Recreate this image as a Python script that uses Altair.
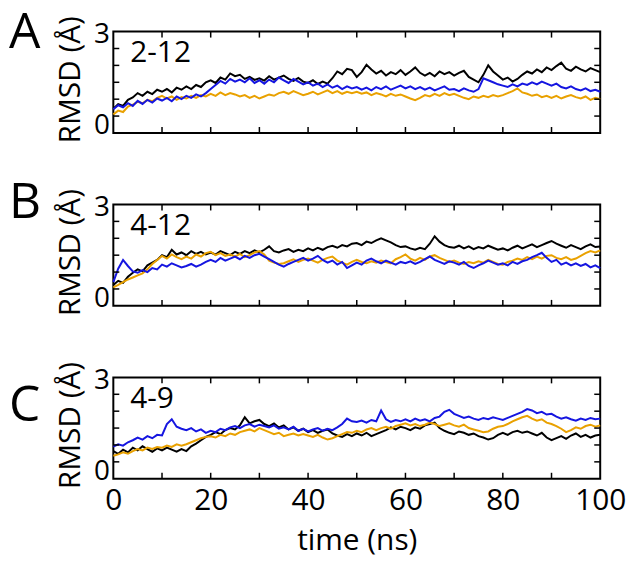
import altair as alt
import pandas as pd

TIME = list(range(0, 101))

A_BLACK = [0.72, 0.85, 0.80, 0.98, 1.05, 1.18, 1.10, 1.22, 1.15, 1.28,
           1.22, 1.30, 1.20, 1.34, 1.28, 1.38, 1.30, 1.42, 1.36, 1.50,
           1.56, 1.48, 1.64, 1.58, 1.76, 1.68, 1.72, 1.60, 1.66, 1.57,
           1.62, 1.55, 1.68, 1.58, 1.64, 1.70, 1.60, 1.54, 1.63, 1.52,
           1.48, 1.56, 1.45, 1.52, 1.46, 1.62, 1.82, 1.74, 1.90, 1.86,
           1.66, 1.80, 2.02, 1.88, 1.76, 1.84, 1.70, 1.80, 1.74, 1.86,
           1.72, 1.82, 1.94, 1.78, 1.70, 1.78, 1.68, 1.82, 1.74, 1.80,
           1.70, 1.78, 1.84, 1.66, 1.58, 1.50, 1.72, 2.00, 1.82, 1.70,
           1.58, 1.64, 1.52, 1.60, 1.72, 1.82, 1.76, 1.88, 1.80, 1.94,
           1.86, 1.98, 2.08, 1.90, 1.84, 1.96, 1.88, 1.82, 1.92, 1.86,
           1.80]
A_ORANGE = [0.55, 0.66, 0.62, 0.78, 0.84, 0.92, 0.88, 0.98, 0.94, 1.04,
            1.10, 1.02, 1.08, 0.98, 1.06, 1.02, 1.10, 1.04, 1.12, 1.08,
            1.16, 1.10, 1.20, 1.12, 1.18, 1.14, 1.08, 1.12, 1.04, 1.10,
            1.02, 1.08, 1.14, 1.10, 1.18, 1.22, 1.16, 1.24, 1.18, 1.12,
            1.16, 1.22, 1.14, 1.20, 1.26, 1.18, 1.24, 1.16, 1.22, 1.18,
            1.22, 1.16, 1.20, 1.12, 1.18, 1.14, 1.08, 1.16, 1.10, 1.14,
            1.08, 1.02, 0.97, 1.04, 1.12, 1.08, 1.16, 1.10, 1.18, 1.12,
            1.16, 1.10, 1.04, 1.00, 1.08, 1.04, 1.10, 1.06, 1.12, 1.08,
            1.12, 1.18, 1.24, 1.32, 1.20, 1.16, 1.10, 1.14, 1.06, 1.10,
            1.04, 1.10, 1.02, 1.08, 1.12, 1.06, 1.02, 1.08, 0.98, 1.04,
            1.00]
A_BLUE = [0.70, 0.82, 0.76, 0.88, 0.80, 0.95, 0.86, 0.98, 0.90, 1.02,
          0.96, 1.04, 0.94, 1.08, 1.00, 1.10, 1.04, 1.14, 1.08, 1.18,
          1.30, 1.42, 1.54, 1.46, 1.60, 1.52, 1.58, 1.50, 1.62, 1.48,
          1.56, 1.46, 1.58, 1.50, 1.64, 1.56, 1.48, 1.60, 1.52, 1.44,
          1.50, 1.40, 1.46, 1.36, 1.44, 1.34, 1.40, 1.30, 1.38, 1.32,
          1.36, 1.28, 1.34, 1.26, 1.36, 1.30, 1.38, 1.28, 1.34, 1.40,
          1.32, 1.38, 1.30, 1.36, 1.28, 1.34, 1.26, 1.32, 1.38, 1.28,
          1.30, 1.24, 1.32, 1.26, 1.22, 1.30, 1.62, 1.56, 1.50, 1.44,
          1.40, 1.36, 1.44, 1.38, 1.46, 1.42, 1.50, 1.44, 1.52, 1.46,
          1.40, 1.46, 1.36, 1.32, 1.38, 1.30, 1.26, 1.32, 1.24, 1.28,
          1.22]

B_BLACK = [0.62, 0.74, 0.68, 0.86, 0.98, 1.08, 1.02, 1.20, 1.28, 1.36,
           1.50, 1.44, 1.66, 1.52, 1.58, 1.50, 1.62, 1.54, 1.60, 1.52,
           1.58, 1.52, 1.62, 1.56, 1.50, 1.60, 1.54, 1.62, 1.56, 1.64,
           1.58, 1.66, 1.76, 1.62, 1.58, 1.64, 1.68, 1.60, 1.66, 1.62,
           1.70, 1.64, 1.72, 1.66, 1.74, 1.78, 1.72, 1.80, 1.76, 1.84,
           1.86, 1.80, 1.90, 1.86, 1.94, 2.00, 1.94, 1.88, 1.80, 1.74,
           1.76, 1.70, 1.66, 1.72, 1.68, 1.84, 2.06, 1.90, 1.80, 1.74,
           1.72, 1.78, 1.70, 1.76, 1.68, 1.74, 1.70, 1.78, 1.72, 1.66,
           1.70, 1.64, 1.72, 1.78, 1.70, 1.76, 1.82, 1.74, 1.80, 1.86,
           1.92, 1.84, 1.78, 1.72, 1.80, 1.74, 1.68, 1.76, 1.82, 1.74,
           1.76]
B_ORANGE = [0.55, 0.62, 0.70, 0.78, 0.84, 0.90, 0.96, 1.08, 1.24, 1.36,
            1.48, 1.40, 1.52, 1.44, 1.38, 1.46, 1.40, 1.52, 1.46, 1.56,
            1.60, 1.50, 1.56, 1.48, 1.52, 1.46, 1.54, 1.44, 1.50, 1.58,
            1.62, 1.52, 1.34, 1.28, 1.24, 1.26, 1.32, 1.38, 1.30, 1.36,
            1.40, 1.34, 1.28, 1.36, 1.42, 1.46, 1.34, 1.28, 1.22, 1.30,
            1.36, 1.30, 1.26, 1.32, 1.28, 1.34, 1.30, 1.26, 1.38, 1.44,
            1.52, 1.40, 1.34, 1.42, 1.36, 1.46, 1.50, 1.42, 1.36, 1.30,
            1.34, 1.28, 1.24, 1.30, 1.26, 1.32, 1.28, 1.36, 1.30, 1.24,
            1.22, 1.30, 1.34, 1.40, 1.36, 1.44, 1.38, 1.46, 1.40, 1.48,
            1.50, 1.42, 1.38, 1.44, 1.36, 1.40, 1.48, 1.56, 1.62, 1.58,
            1.64]
B_BLUE = [0.70, 1.10, 1.36, 1.18, 1.02, 0.98, 1.06, 1.00, 1.12, 1.08,
          1.22, 1.16, 1.26, 1.20, 1.14, 1.18, 1.24, 1.16, 1.22, 1.30,
          1.36, 1.30, 1.42, 1.34, 1.40, 1.46, 1.38, 1.48, 1.42, 1.50,
          1.54, 1.46, 1.38, 1.30, 1.22, 1.16, 1.24, 1.30, 1.36, 1.42,
          1.34, 1.40, 1.48, 1.36, 1.28, 1.34, 1.22, 1.30, 1.12, 1.20,
          1.28, 1.22, 1.34, 1.40, 1.32, 1.26, 1.34, 1.28, 1.22, 1.30,
          1.26, 1.32, 1.24, 1.30, 1.38, 1.46, 1.36, 1.30, 1.24, 1.32,
          1.28, 1.22, 1.30, 1.18, 1.12, 1.20, 1.26, 1.34, 1.28, 1.22,
          1.26, 1.20, 1.30, 1.24, 1.32, 1.36, 1.44, 1.50, 1.57, 1.42,
          1.30, 1.36, 1.22, 1.28, 1.20, 1.26, 1.18, 1.24, 1.14, 1.20,
          1.12]

C_BLACK = [0.82, 0.74, 0.86, 0.78, 0.92, 0.84, 0.96, 0.88, 0.80, 0.90,
           0.84, 0.92, 0.86, 0.80, 0.88, 0.82, 0.96, 1.04, 1.14, 1.24,
           1.30, 1.38, 1.32, 1.44, 1.50, 1.46, 1.58, 1.82, 1.64, 1.70,
           1.74, 1.62, 1.56, 1.64, 1.52, 1.58, 1.46, 1.52, 1.42, 1.48,
           1.38, 1.44, 1.36, 1.42, 1.46, 1.34, 1.28, 1.24, 1.32, 1.26,
           1.34, 1.28, 1.36, 1.26, 1.32, 1.38, 1.44, 1.52, 1.46, 1.54,
           1.50, 1.44, 1.52, 1.48, 1.58, 1.62, 1.66, 1.50, 1.42, 1.36,
           1.32, 1.40, 1.36, 1.30, 1.34, 1.26, 1.22, 1.16, 1.20, 1.30,
           1.36, 1.30, 1.38, 1.42, 1.36, 1.40, 1.34, 1.28, 1.36, 1.22,
           1.14, 1.20, 1.26, 1.18, 1.28, 1.34, 1.24, 1.30, 1.22, 1.28,
           1.30]
C_ORANGE = [0.68, 0.72, 0.78, 0.74, 0.82, 0.88, 0.84, 0.92, 0.88, 0.94,
            0.92, 0.98, 0.94, 1.02, 0.98, 1.02, 1.08, 1.14, 1.20, 1.24,
            1.26, 1.22, 1.30, 1.26, 1.34, 1.30, 1.38, 1.42, 1.46, 1.40,
            1.50, 1.44, 1.38, 1.32, 1.36, 1.26, 1.30, 1.34, 1.28, 1.32,
            1.28, 1.24, 1.30, 1.22, 1.16, 1.20, 1.26, 1.32, 1.38, 1.36,
            1.42, 1.38, 1.46, 1.50, 1.44, 1.50, 1.54, 1.48, 1.56, 1.60,
            1.64, 1.58, 1.62, 1.56, 1.60, 1.66, 1.62, 1.56, 1.60, 1.64,
            1.58, 1.54, 1.60, 1.50, 1.46, 1.42, 1.38, 1.40, 1.48, 1.54,
            1.56, 1.62, 1.70, 1.76, 1.82, 1.86, 1.78, 1.72, 1.76, 1.66,
            1.62, 1.56, 1.48, 1.38, 1.44, 1.52, 1.48, 1.56, 1.60, 1.54,
            1.58]
C_BLUE = [0.95, 1.02, 0.98, 1.08, 1.14, 1.22, 1.16, 1.26, 1.20, 1.30,
          1.28, 1.62, 1.76, 1.54, 1.48, 1.44, 1.50, 1.40, 1.46, 1.36,
          1.42, 1.38, 1.48, 1.44, 1.52, 1.56, 1.50, 1.58, 1.62, 1.54,
          1.60, 1.56, 1.52, 1.58, 1.48, 1.52, 1.46, 1.54, 1.42, 1.48,
          1.40, 1.46, 1.50, 1.42, 1.48, 1.44, 1.52, 1.62, 1.78, 1.70,
          1.68, 1.72, 1.66, 1.74, 1.70, 2.02, 1.76, 1.68, 1.74, 1.70,
          1.76, 1.70, 1.78, 1.72, 1.76, 1.70, 1.80, 1.84, 1.98, 2.04,
          1.92, 1.86, 1.80, 1.84, 1.78, 1.74, 1.80, 1.76, 1.82, 1.78,
          1.74, 1.80, 1.86, 1.92, 1.98, 2.06, 2.02, 1.94, 1.98, 1.90,
          1.92, 1.84, 1.78, 1.82, 1.76, 1.72, 1.78, 1.74, 1.80, 1.76,
          1.78]

PANEL_LETTERS = ["A", "B", "C"]
PANEL_NAMES = ["2-12", "4-12", "4-9"]
SERIES_NAMES = ["black", "orange", "blue"]
SERIES_COLORS = ["#000000", "#E9A100", "#1515E0"]
PANEL_DATA = [
    [A_BLACK, A_ORANGE, A_BLUE],
    [B_BLACK, B_ORANGE, B_BLUE],
    [C_BLACK, C_ORANGE, C_BLUE],
]
Y_TICKS = [0.5, 1.0, 1.5, 2.0, 2.5]
X_TICKS = [10, 20, 30, 40, 50, 60, 70, 80, 90]
X_LABELS = [0, 20, 40, 60, 80, 100]
Y_LABELS = [0, 3]

FONT = "Open Sans"
W, H = 490, 102
TL = 6  # inner tick length
LETTER_Y = [16, 14, 44]

xscale = alt.Scale(domain=[0, 100], nice=False, zero=False)
yscale = alt.Scale(domain=[0, 3], nice=False)

ytick_df = pd.DataFrame({"v": Y_TICKS})
xtick_df = pd.DataFrame({"v": X_TICKS})


def make_panel(i):
    last = i == 2
    if last:
        xaxis = alt.Axis(values=X_LABELS, title="time (ns)", ticks=False, tickSize=0,
                         domain=False, grid=False, labelFontSize=30, labelPadding=7,
                         labelFlush=False, labelOverlap=False, format="d",
                         titleFontSize=30, titleFontWeight="normal", titlePadding=10,
                         labelFont=FONT, titleFont=FONT, labelColor="black", titleColor="black")
    else:
        xaxis = None
    yaxis = alt.Axis(values=Y_LABELS, title="RMSD (Å)", ticks=False, tickSize=0,
                     domain=False, grid=False, labelFontSize=28, labelPadding=4,
                     labelFlush=False, labelOverlap=False, format="d",
                     labelOffset={"condition": {"test": "datum.value == 0", "value": -7}, "value": 3},
                     titleFontSize=30, titleFontWeight="normal", titleAngle=270,
                     titleBaseline="middle", titleX=-43, titleY=48,
                     labelFont=FONT, titleFont=FONT, labelColor="black", titleColor="black")
    layers = []
    for k, name in enumerate(SERIES_NAMES):
        df = pd.DataFrame({"time": TIME, "rmsd": PANEL_DATA[i][k]})
        layers.append(
            alt.Chart(df).mark_line(color=SERIES_COLORS[k], strokeWidth=2).encode(
                x=alt.X("time:Q", scale=xscale, axis=xaxis),
                y=alt.Y("rmsd:Q", scale=yscale, axis=yaxis),
            )
        )
    tick_style = dict(color="black", strokeWidth=1.5)
    layers.append(alt.Chart(ytick_df).mark_rule(**tick_style).encode(
        y=alt.Y("v:Q", scale=yscale, axis=yaxis), x=alt.value(0), x2=alt.value(TL)))
    layers.append(alt.Chart(ytick_df).mark_rule(**tick_style).encode(
        y=alt.Y("v:Q", scale=yscale, axis=yaxis), x=alt.value(W - TL), x2=alt.value(W)))
    layers.append(alt.Chart(xtick_df).mark_rule(**tick_style).encode(
        x=alt.X("v:Q", scale=xscale, axis=xaxis), y=alt.value(0), y2=alt.value(TL)))
    layers.append(alt.Chart(xtick_df).mark_rule(**tick_style).encode(
        x=alt.X("v:Q", scale=xscale, axis=xaxis), y=alt.value(H - TL), y2=alt.value(H)))
    layers.append(alt.Chart(pd.DataFrame({"t": [PANEL_NAMES[i]]})).mark_text(
        align="left", baseline="alphabetic", fontSize=30, font=FONT, color="black").encode(
        text="t:N", x=alt.value(17), y=alt.value(31)))
    layers.append(alt.Chart(pd.DataFrame({"t": [PANEL_LETTERS[i]]})).mark_text(
        align="left", baseline="alphabetic", fontSize=50, font=FONT, color="black").encode(
        text="t:N", x=alt.value(-105), y=alt.value(LETTER_Y[i])))
    return alt.layer(*layers).properties(width=W, height=H)


chart = alt.vconcat(*[make_panel(i) for i in range(3)], spacing=72, bounds="flush").properties(
    padding={"left": 0, "top": -3, "right": 5, "bottom": 0}
).configure(font=FONT).configure_view(stroke="black", strokeWidth=2)

chart.save("out.html", embed_options={"renderer": "svg", "actions": False})
